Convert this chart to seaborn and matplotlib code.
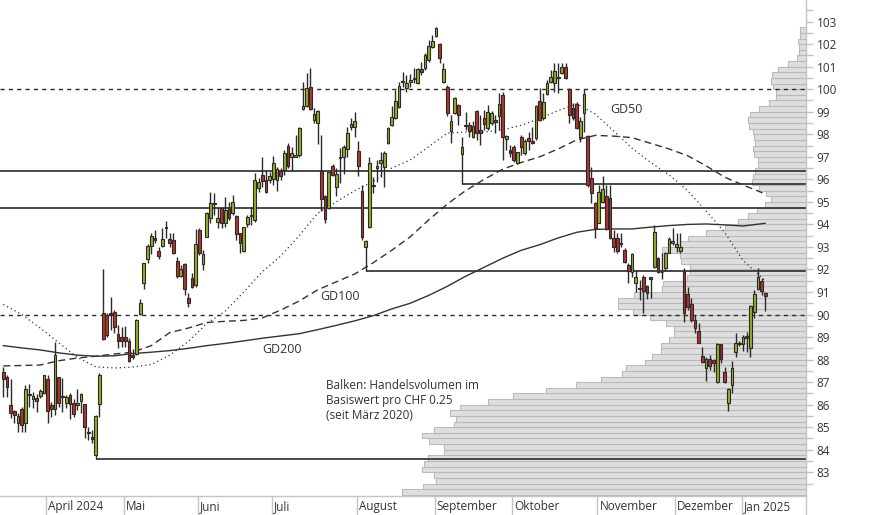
import numpy as np
import pandas as pd
import matplotlib
matplotlib.use("Agg")
import matplotlib.pyplot as plt
from matplotlib.ticker import FixedLocator
import seaborn as sns

# --- daily candles (CHF), 13.03.2024 - 13.01.2025 ---
open_ = [87.43, 87.21, 85.97, 85.70, 85.20, 85.79, 85.17, 86.44, 86.24, 86.30,
         86.38, 86.50, 87.12, 85.98, 85.79, 87.21, 86.35, 86.06, 86.44, 86.09,
         85.97, 86.18, 86.01, 84.76, 84.55, 83.75, 86.01, 90.05, 89.97, 90.01,
         90.10, 89.12, 88.99, 88.99, 88.82, 88.19, 88.23, 90.01, 91.39, 92.45,
         93.04, 93.38, 92.82, 93.04, 93.83, 93.34, 93.31, 92.38, 91.73, 92.24,
         90.75, 91.61, 91.31, 93.75, 92.24, 93.46, 94.27, 94.94, 94.12, 94.71,
         94.08, 94.67, 94.49, 94.37, 93.60, 92.83, 94.00, 94.37, 94.20, 95.60,
         96.19, 95.97, 95.97, 96.00, 95.97, 96.39, 96.42, 97.48, 96.98, 97.01,
         97.10, 99.11, 99.26, 100.09, 98.64, 98.49, 96.39, 95.26, 94.71, 96.61,
         95.68, 96.93, 96.98, 97.33, 98.31, 98.34, 97.26, 95.48, 93.01, 93.90,
         95.72, 96.49, 96.74, 96.56, 97.60, 98.41, 98.71, 99.20, 100.31, 100.04,
         100.31, 100.44, 100.26, 100.88, 100.96, 101.30, 101.86, 102.36, 102.01, 100.34,
         100.09, 98.15, 98.93, 99.30, 97.13, 98.37, 98.41, 97.87, 99.03, 98.19,
         98.71, 98.27, 98.49, 98.64, 98.81, 99.75, 97.78, 97.30, 97.42, 96.71,
         97.87, 97.16, 97.82, 97.72, 97.82, 99.48, 98.71, 99.78, 100.34, 100.29,
         100.48, 100.71, 100.97, 100.00, 99.15, 99.35, 97.87, 98.93, 97.93, 96.05,
         94.93, 94.08, 95.01, 95.28, 95.16, 93.38, 93.40, 93.19, 92.86, 92.20,
         91.90, 91.41, 91.15, 91.65, 91.27, 91.65, 92.10, 92.50, 91.87, 92.05,
         92.75, 93.16, 93.01, 92.83, 91.90, 90.91, 90.47, 89.76, 89.27, 88.16,
         87.61, 88.01, 87.98, 87.02, 88.69, 87.43, 86.06, 86.87, 88.35, 88.70,
         88.69, 89.05, 88.50, 90.13, 91.12, 91.50, 90.97]
high = [87.69, 87.32, 87.12, 85.76, 85.61, 85.91, 86.87, 86.92, 86.58, 86.47,
        86.68, 87.30, 87.32, 86.13, 88.78, 87.24, 87.20, 86.43, 86.50, 86.25,
        86.69, 86.53, 86.01, 85.02, 84.87, 85.54, 87.39, 92.01, 90.05, 90.79,
        90.20, 89.52, 89.46, 89.49, 88.94, 88.48, 89.80, 90.68, 92.27, 93.12,
        93.60, 93.75, 93.01, 93.86, 94.15, 93.60, 93.60, 92.57, 92.20, 92.27,
        90.94, 91.86, 93.78, 93.83, 92.86, 94.57, 95.45, 95.38, 94.71, 94.79,
        95.23, 95.01, 95.31, 94.42, 93.63, 93.90, 94.42, 94.79, 96.27, 96.05,
        96.98, 96.42, 96.34, 97.04, 96.56, 96.49, 97.30, 97.60, 97.42, 97.97,
        98.34, 100.34, 100.71, 100.93, 99.15, 99.08, 97.97, 95.30, 96.34, 96.68,
        96.49, 97.38, 97.52, 98.34, 98.71, 99.00, 97.72, 95.75, 93.31, 96.98,
        96.12, 96.86, 97.23, 97.27, 98.34, 99.26, 99.97, 100.34, 100.78, 100.63,
        100.68, 100.93, 100.93, 101.23, 101.60, 102.19, 102.41, 102.75, 102.07, 101.15,
        100.19, 98.86, 99.67, 99.35, 97.90, 99.00, 98.56, 98.59, 99.08, 98.86,
        99.08, 99.30, 99.03, 98.86, 99.82, 99.89, 97.97, 97.53, 97.53, 97.23,
        97.97, 97.78, 98.12, 98.34, 99.30, 100.04, 99.82, 100.41, 100.85, 101.15,
        101.18, 101.15, 101.15, 100.04, 99.38, 99.45, 98.78, 100.00, 97.97, 96.56,
        95.01, 95.75, 96.15, 95.75, 95.75, 93.75, 93.60, 93.60, 92.94, 92.27,
        92.72, 91.98, 91.53, 91.75, 91.31, 91.68, 93.98, 92.57, 92.72, 92.79,
        93.46, 93.83, 93.60, 93.60, 92.05, 91.24, 90.72, 89.98, 89.61, 88.54,
        88.13, 88.20, 88.01, 88.75, 88.69, 87.69, 86.72, 87.95, 89.17, 88.84,
        89.09, 89.24, 90.42, 91.09, 92.05, 91.61, 91.02]
low = [86.35, 86.32, 85.39, 85.17, 84.80, 84.80, 84.80, 85.91, 85.84, 85.69,
       86.28, 86.47, 85.17, 85.47, 85.54, 85.91, 85.69, 85.84, 85.35, 85.47,
       85.76, 85.64, 84.50, 84.43, 84.28, 83.57, 85.44, 88.87, 89.02, 89.31,
       89.20, 88.53, 88.57, 88.57, 87.91, 88.04, 88.19, 89.97, 91.12, 92.27,
       92.69, 93.16, 92.45, 93.01, 93.38, 93.01, 92.69, 91.64, 91.65, 90.87,
       90.35, 91.16, 91.21, 92.64, 91.98, 93.43, 94.05, 94.42, 93.83, 93.83,
       93.90, 94.20, 94.42, 93.31, 92.75, 92.79, 93.90, 93.97, 94.12, 95.45,
       95.68, 95.41, 95.82, 95.75, 95.50, 95.97, 96.19, 96.49, 96.39, 96.98,
       97.01, 99.08, 99.23, 99.08, 98.49, 97.57, 94.61, 94.05, 94.67, 96.15,
       95.26, 95.82, 96.24, 96.98, 98.19, 97.89, 96.16, 93.31, 91.93, 93.83,
       95.38, 95.90, 96.12, 95.68, 97.57, 98.37, 98.66, 99.15, 100.12, 99.89,
       100.12, 100.26, 100.22, 100.63, 100.85, 101.23, 101.82, 102.34, 101.15, 100.29,
       98.81, 97.63, 98.89, 98.41, 95.79, 98.19, 97.87, 97.82, 97.75, 97.53,
       98.19, 98.19, 98.41, 98.04, 98.19, 96.86, 97.30, 97.01, 96.79, 96.68,
       97.08, 97.08, 97.30, 97.57, 97.75, 98.61, 98.64, 99.75, 100.29, 99.89,
       99.85, 100.68, 100.44, 98.52, 98.64, 98.22, 97.67, 98.12, 95.68, 94.93,
       93.38, 94.05, 94.93, 93.75, 93.34, 92.79, 92.72, 93.01, 92.27, 91.41,
       91.68, 91.02, 90.65, 90.05, 90.67, 90.72, 92.05, 91.86, 91.56, 91.95,
       92.72, 93.09, 92.79, 92.72, 89.68, 90.20, 89.68, 89.17, 88.72, 87.83,
       87.06, 87.54, 87.46, 86.97, 87.83, 86.95, 85.73, 86.53, 88.13, 88.60,
       88.40, 88.35, 88.10, 89.83, 91.09, 90.87, 90.17]
close = [87.12, 86.77, 85.61, 85.53, 85.50, 85.08, 86.68, 86.47, 86.38, 86.15,
         86.59, 87.30, 85.70, 85.79, 88.19, 86.06, 86.38, 86.32, 86.03, 85.58,
         86.06, 86.47, 84.99, 84.77, 84.49, 85.50, 87.30, 88.93, 89.09, 90.07,
         89.46, 88.84, 88.84, 88.84, 87.95, 88.10, 89.76, 90.50, 92.27, 93.04,
         93.49, 93.29, 92.61, 93.34, 93.87, 93.16, 92.75, 91.73, 92.02, 91.12,
         90.50, 91.24, 93.13, 92.72, 92.67, 94.49, 94.94, 94.89, 94.27, 94.08,
         94.64, 94.27, 94.98, 93.57, 93.16, 93.87, 94.31, 94.40, 95.97, 95.88,
         95.94, 95.45, 96.15, 96.71, 96.45, 96.15, 97.19, 96.59, 97.19, 97.07,
         98.28, 99.26, 100.04, 99.11, 98.90, 99.04, 95.11, 94.23, 96.33, 96.19,
         96.24, 97.01, 97.45, 98.04, 98.44, 98.59, 96.61, 93.45, 93.26, 96.71,
         95.75, 96.59, 96.86, 97.15, 98.26, 98.75, 99.48, 100.16, 100.38, 100.29,
         100.41, 100.49, 100.88, 100.78, 101.52, 101.92, 102.14, 102.70, 101.37, 100.88,
         98.93, 98.59, 99.60, 98.86, 97.42, 98.41, 98.16, 98.38, 98.04, 98.04,
         98.46, 99.01, 98.96, 98.53, 99.35, 97.90, 97.93, 97.19, 96.86, 97.22,
         97.45, 97.72, 97.72, 97.60, 99.26, 98.64, 99.45, 100.26, 100.53, 100.81,
         100.56, 100.97, 100.48, 98.86, 98.71, 98.27, 98.61, 99.79, 95.75, 95.38,
         93.82, 95.45, 95.56, 93.78, 93.38, 93.01, 92.83, 93.12, 92.35, 91.95,
         92.67, 91.65, 91.18, 91.06, 90.97, 91.56, 93.65, 91.90, 91.90, 92.72,
         93.35, 93.28, 93.13, 92.98, 90.08, 90.35, 89.76, 89.39, 88.75, 87.91,
         88.01, 87.73, 87.86, 88.69, 88.01, 87.02, 86.68, 87.61, 88.75, 88.75,
         89.02, 88.94, 90.38, 90.91, 91.65, 91.06, 90.82]

# SIX holidays inside the window
holidays = ["2024-03-29", "2024-04-01", "2024-05-01", "2024-05-09", "2024-05-20",
            "2024-08-01", "2024-12-24", "2024-12-25", "2024-12-26", "2024-12-31",
            "2025-01-01", "2025-01-02"]

month_labels = ["April 2024", "Mai", "Juni", "Juli", "August", "September",
                "Oktober", "November", "Dezember", "Jan 2025"]

# moving averages, read every 5th trading day
ma_idx = list(range(0, 201, 5)) + [206]
gd50 = [90.45, 90.0, 89.4, 88.75, 88.1, 87.68, 87.63, 87.67, 87.78, 88.2,
        88.8, 89.6, 90.15, 91.0, 91.9, 92.6, 93.5, 94.5, 95.0, 95.5,
        95.9, 96.5, 96.86, 97.45, 98.05, 98.1, 98.1, 98.2, 98.4, 98.7,
        99.05, 99.35, 98.9, 98.15, 97.38, 96.75, 96.2, 95.5, 94.6, 93.65,
        92.4, 91.5]
gd100 = [87.72, 87.74, 87.76, 87.95, 88.07, 88.15, 88.25, 88.33, 88.62, 89.2,
         89.4, 89.65, 89.7, 89.74, 89.85, 90.2, 90.6, 91.1, 91.45, 91.8,
         92.3, 92.85, 93.45, 94.2, 94.9, 95.5, 96.0, 96.45, 96.75, 97.0,
         97.35, 97.75, 97.95, 97.92, 97.85, 97.6, 97.35, 97.05, 96.6, 96.1,
         95.75, 95.35]
gd200 = [88.62, 88.52, 88.43, 88.3, 88.2, 88.15, 88.17, 88.27, 88.33, 88.4,
         88.5, 88.62, 88.72, 88.83, 88.95, 89.05, 89.15, 89.33, 89.52, 89.72,
         89.95, 90.25, 90.5, 90.85, 91.25, 91.7, 92.1, 92.5, 92.85, 93.1,
         93.4, 93.65, 93.78, 93.8, 93.8, 93.88, 93.95, 94.0, 94.02, 93.98,
         93.93, 94.05]

# horizontal support / resistance: (level, starting day index or None = full width)
levels = [(96.37, None), (95.79, 124), (94.73, None), (91.93, 98), (83.57, 25)]
dashed_levels = [90, 100]

# volume profile, bins of CHF 0.25 from 82.00 upward (relative volume)
vol_bins = np.arange(82.0, 102.75, 0.25)
volume = [404, 383, 370, 372, 384, 382, 378, 362, 362, 377,
          384, 372, 352, 350, 356, 346, 318, 293, 260, 230,
          205, 184, 180, 161, 154, 145, 145, 137, 132, 132,
          140, 156, 173, 188, 188, 172, 144, 143, 119, 116,
          116, 125, 126, 144, 126, 118, 100, 81, 68, 58,
          49, 41, 35, 40, 47, 54, 53, 51, 48, 48,
          52, 53, 51, 52, 53, 57, 58, 56, 47, 37,
          30, 30, 33, 35, 34, 28, 18, 9, 7, 7,
          8, 6, 6]

GREEN = "#9aae1f"
RED = "#b8322a"
INK = "#2a2a2a"
TXT = "#333333"
AXC = "#c4c4c4"

sns.set_style("white")
plt.rcParams["font.family"] = ["Open Sans", "DejaVu Sans"]

dates = pd.bdate_range("2024-03-13", "2025-01-13")
dates = dates[~dates.isin(pd.to_datetime(holidays))]
df = pd.DataFrame({"open": open_, "high": high, "low": low, "close": close}, index=dates)
df["i"] = np.arange(len(df))
month_first = df.groupby(df.index.to_period("M"))["i"].first().iloc[1:].to_numpy()

fig = plt.figure(figsize=(8.74, 5.15), dpi=100)
ax = fig.add_axes([0, 19.5 / 515, 805.5 / 874, 495.5 / 515])
xmin, xmax = -0.89, 216.87
ax.set_xlim(xmin, xmax)
ax.set_ylim(81.97, 103.96)

# volume profile on a twin x axis, bars growing from the right edge
ax2 = ax.twiny()
ax2.barh(vol_bins + 0.125, volume, height=0.25, left=0, color="#dedede",
         edgecolor="#bababa", linewidth=0.8)
ax2.set_xlim(805.5, 0)
ax2.axis("off")
ax.set_zorder(ax2.get_zorder() + 1)
ax.patch.set_visible(False)

# reference levels
for lvl, start in levels:
    ax.hlines(lvl, xmin if start is None else start, xmax, color=INK, lw=1.2, zorder=2)
for lvl in dashed_levels:
    ax.axhline(lvl, color=INK, lw=1.0, ls=(0, (3, 3)), zorder=2)

# moving averages
sns.lineplot(x=ma_idx, y=gd50, ax=ax, color=TXT, lw=0.9, linestyle=(0, (1, 2.4)), zorder=2)
sns.lineplot(x=ma_idx, y=gd100, ax=ax, color=TXT, lw=1.0, linestyle=(0, (5, 3)), zorder=2)
sns.lineplot(x=ma_idx, y=gd200, ax=ax, color=TXT, lw=1.0, zorder=2)

# candles
up = df["close"] >= df["open"]
ax.vlines(df["i"], df["low"], df["high"], color=INK, lw=1.0, zorder=3)
body = np.maximum((df["close"] - df["open"]).abs(), 0.04)
ax.bar(df["i"], body, bottom=np.minimum(df["open"], df["close"]), width=0.74,
       color=np.where(up, GREEN, RED), edgecolor=INK, linewidth=0.8, zorder=4)

# labels
ax.text(164, 99.12, "GD50", fontsize=9, color=TXT, va="center", ha="left")
ax.text(85.6, 90.78, "GD100", fontsize=9, color=TXT, va="center", ha="left")
ax.text(69.9, 88.43, "GD200", fontsize=9, color=TXT, va="center", ha="left")
ax.text(87.2, 87.12, "Balken: Handelsvolumen im\nBasiswert pro CHF 0.25\n(seit März 2020)",
        fontsize=8.5, color=TXT, va="top", ha="left", linespacing=1.2)

# axes styling
for s in ["top", "left"]:
    ax.spines[s].set_visible(False)
for s in ["right", "bottom"]:
    ax.spines[s].set_color(AXC)
    ax.spines[s].set_linewidth(1.0)

ax.yaxis.tick_right()
ax.set_yticks(np.arange(83, 104))
ax.yaxis.set_minor_locator(FixedLocator(np.arange(82.5, 104, 1.0)))
ax.tick_params(axis="y", which="both", length=5, width=1, color=AXC,
               labelsize=8.5, labelcolor=TXT, pad=3)

seps = list(month_first - 0.4) + [xmax]
ax.set_xticks(seps)
ax.set_xticklabels([])
ax.tick_params(axis="x", length=14.5, width=1, color=AXC, direction="out")
for pos, lbl in zip(month_first - 0.4, month_labels):
    ax.annotate(lbl, xy=(pos, 0), xycoords=ax.get_xaxis_transform(),
                xytext=(1.6, -10.6), textcoords="offset points",
                ha="left", va="baseline", fontsize=8.5, color=TXT)

ax.set_xlabel("")
ax.set_ylabel("")
fig.savefig("out.png", dpi=100)
